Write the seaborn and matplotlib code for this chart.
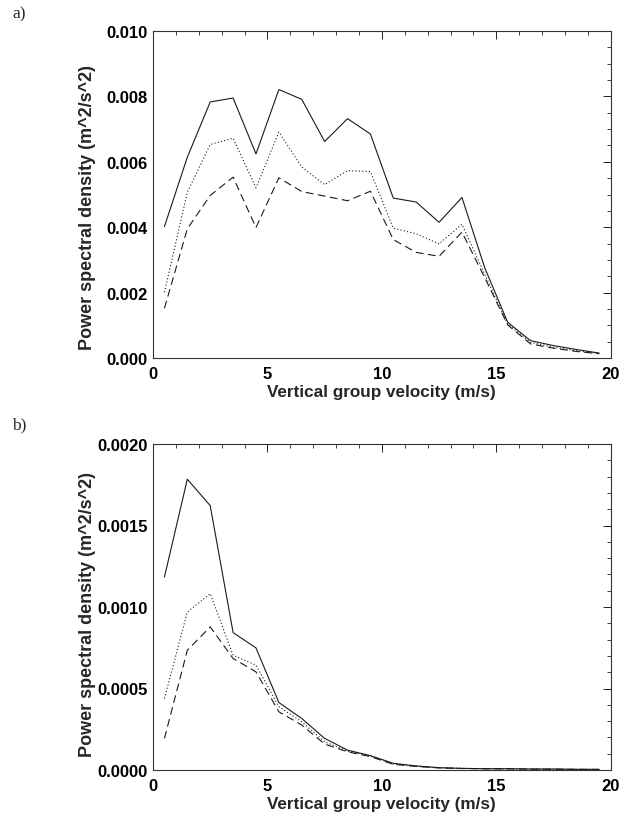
import matplotlib
matplotlib.use("Agg")
import matplotlib.pyplot as plt
from matplotlib.ticker import MultipleLocator, FormatStrFormatter
import seaborn as sns
import pandas as pd

sns.set_theme(style="white")
plt.rcParams['font.family'] = ['Liberation Sans', 'DejaVu Sans']

velocity = [0.5, 1.5, 2.5, 3.5, 4.5, 5.5, 6.5, 7.5, 8.5, 9.5,
            10.5, 11.5, 12.5, 13.5, 14.5, 15.5, 16.5, 17.5, 18.5, 19.5]

a_solid = [0.00402, 0.00614, 0.00783, 0.00795, 0.00624, 0.00821, 0.00791, 0.00662, 0.00732, 0.00685,
           0.00489, 0.00477, 0.00415, 0.00491, 0.00275, 0.00109, 0.00053, 0.00038, 0.00026, 0.00015]
a_dotted = [0.00201, 0.00507, 0.00653, 0.00672, 0.00520, 0.00691, 0.00584, 0.00530, 0.00573, 0.00570,
            0.00397, 0.00380, 0.00349, 0.00409, 0.00255, 0.00104, 0.00048, 0.00033, 0.00022, 0.00014]
a_dashed = [0.00152, 0.00395, 0.00497, 0.00553, 0.00399, 0.00551, 0.00509, 0.00495, 0.00481, 0.00510,
            0.00362, 0.00323, 0.00311, 0.00385, 0.00245, 0.00101, 0.00043, 0.00030, 0.00020, 0.00013]

b_solid = [0.001184, 0.001784, 0.001622, 0.000843, 0.000749, 0.000414, 0.000316, 0.000194, 0.000122, 0.000088,
           0.000041, 0.000025, 0.000014, 0.000010, 0.000008, 0.000008, 0.000006, 0.000006, 0.000004, 0.000004]
b_dotted = [0.000439, 0.000969, 0.001082, 0.000704, 0.000643, 0.000388, 0.000296, 0.000173, 0.000116, 0.000086,
            0.000037, 0.000023, 0.000014, 0.000010, 0.000008, 0.000007, 0.000006, 0.000005, 0.000004, 0.000004]
b_dashed = [0.000194, 0.000735, 0.000878, 0.000684, 0.000602, 0.000357, 0.000276, 0.000159, 0.000112, 0.000082,
            0.000035, 0.000022, 0.000013, 0.000009, 0.000007, 0.000007, 0.000005, 0.000005, 0.000004, 0.000003]

series_names = ["solid", "dotted", "dashed"]
x_ticks = [0, 5, 10, 15, 20]
xlabel = "Vertical group velocity (m/s)"
ylabel = "Power spectral density (m^2/s^2)"
panel_letters = ["a)", "b)"]


def make_df(s, d1, d2):
    rows = []
    for name, vals in zip(series_names, [s, d1, d2]):
        for v, p in zip(velocity, vals):
            rows.append({"v": v, "p": p, "series": name})
    return pd.DataFrame(rows)


fig = plt.figure(figsize=(6.3, 8.2), dpi=100)
ax_a = fig.add_axes([153 / 630, 1 - 359 / 820, 457.7 / 630, 327 / 820])
ax_b = fig.add_axes([153 / 630, 1 - 771 / 820, 457.7 / 630, 326 / 820])

dash_map = {"solid": "", "dotted": (1, 2), "dashed": (7, 4)}

panels = [
    (ax_a, make_df(a_solid, a_dotted, a_dashed), 0.010, 0.002, 0.0005, "%.3f", 0.462),
    (ax_b, make_df(b_solid, b_dotted, b_dashed), 0.0020, 0.0005, 0.0001, "%.4f", 0.479),
]

for ax, df, ymax, ymaj, ymin_, fmt, ylab_y in panels:
    sns.lineplot(data=df, x="v", y="p", style="series", dashes=dash_map,
                 color="#1a1a1a", linewidth=0.8, ax=ax, legend=False,
                 estimator=None, sort=False)
    ax.set_xlim(0, 20)
    ax.set_ylim(0, ymax)
    ax.set_xticks(x_ticks)
    ax.xaxis.set_minor_locator(MultipleLocator(1))
    ax.yaxis.set_major_locator(MultipleLocator(ymaj))
    ax.yaxis.set_minor_locator(MultipleLocator(ymin_))
    ax.yaxis.set_major_formatter(FormatStrFormatter(fmt))
    ax.tick_params(axis="both", which="both", direction="in", top=True, right=True,
                   colors="#222222", labelcolor="black")
    ax.tick_params(axis="both", which="major", length=6, width=0.7, labelsize=12)
    ax.tick_params(axis="both", which="minor", length=3, width=0.6)
    ax.tick_params(axis="x", which="major", pad=6)
    ax.tick_params(axis="y", which="major", pad=4)
    for lab in ax.get_xticklabels() + ax.get_yticklabels():
        lab.set_fontweight("bold")
    for sp in ax.spines.values():
        sp.set_color("#333333")
        sp.set_linewidth(0.8)
    ax.set_xlabel(xlabel, fontsize=12.3, fontweight="bold", labelpad=2)
    ax.set_ylabel(ylabel, fontsize=13, fontweight="bold")
    ax.yaxis.set_label_coords(-0.125, ylab_y)

fig.text(12 / 630, 1 - 14 / 820, panel_letters[0], fontsize=12.5,
         family=["Liberation Serif", "DejaVu Serif"], va="center", ha="left")
fig.text(12 / 630, 1 - 425 / 820, panel_letters[1], fontsize=12.5,
         family=["Liberation Serif", "DejaVu Serif"], va="center", ha="left")

fig.savefig("out.png", dpi=100, facecolor="white")
